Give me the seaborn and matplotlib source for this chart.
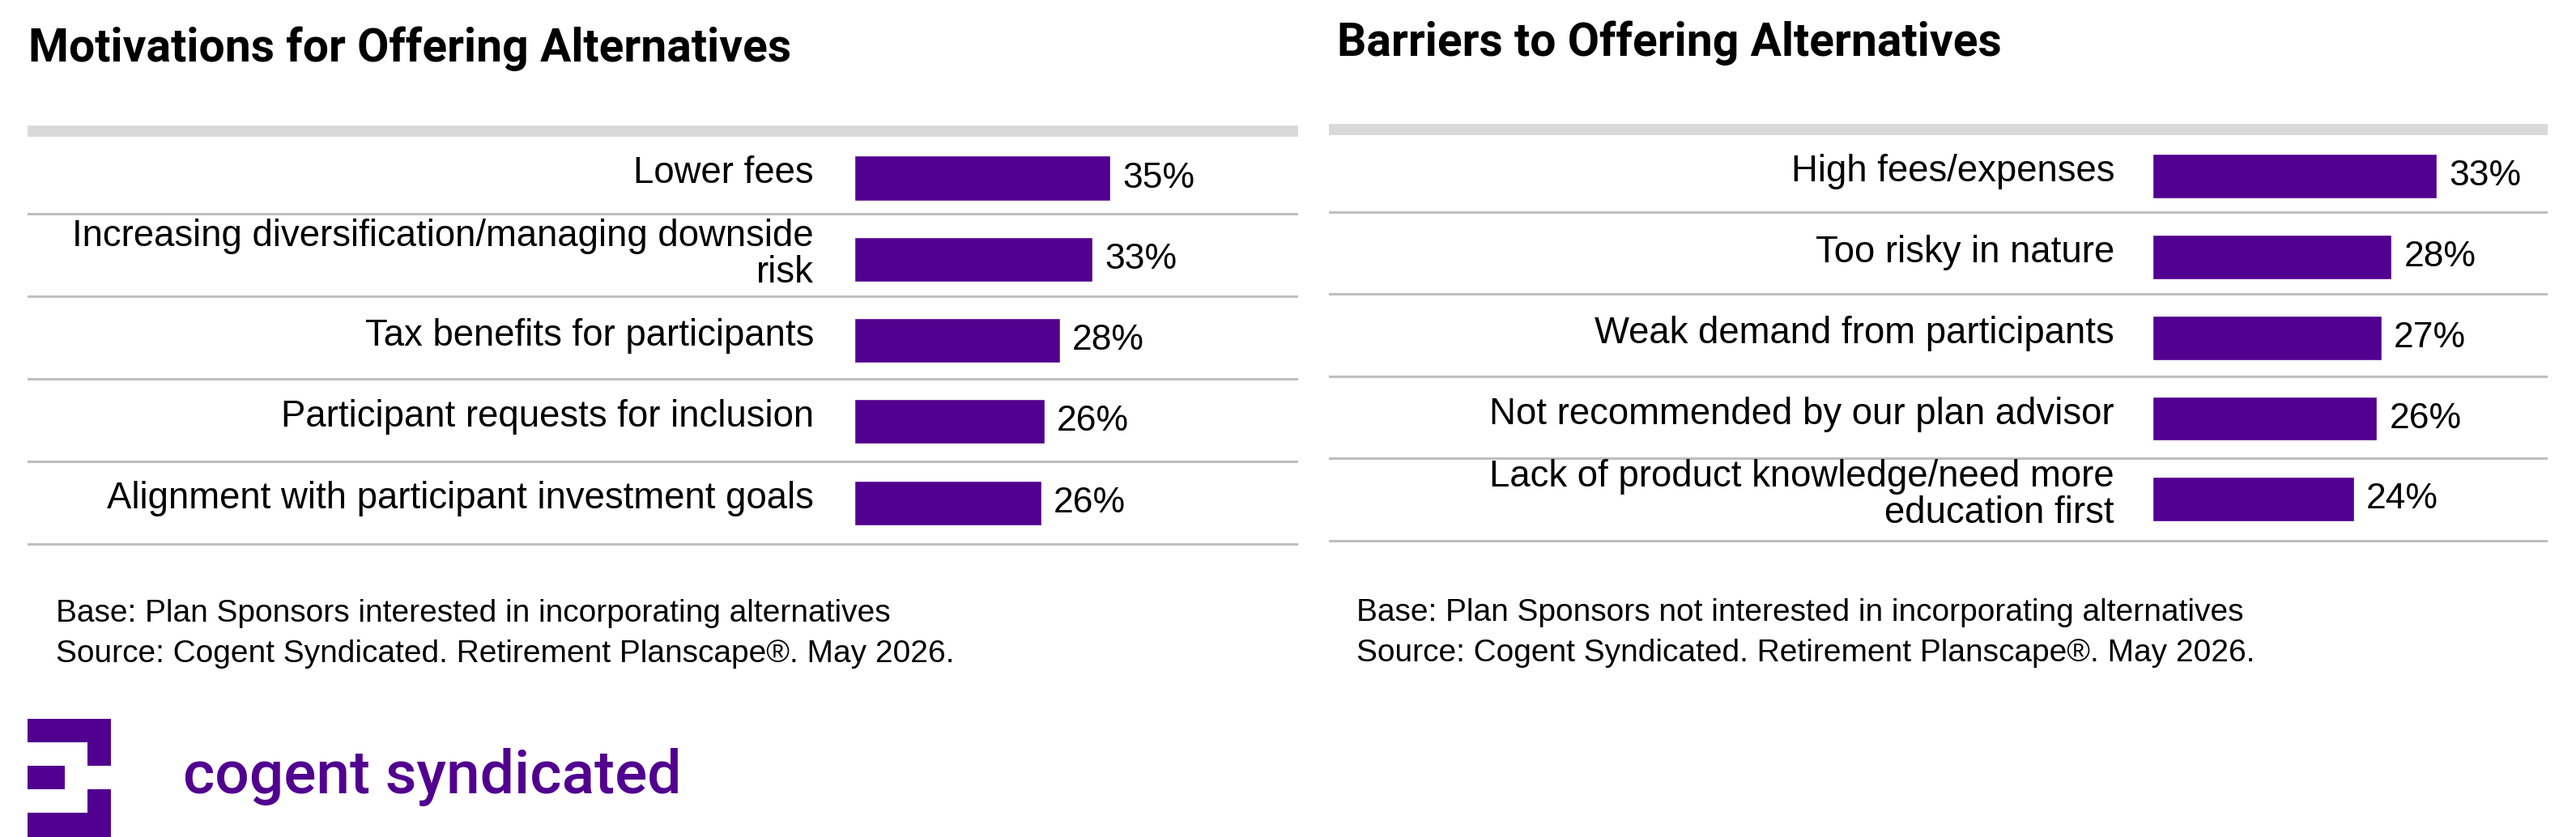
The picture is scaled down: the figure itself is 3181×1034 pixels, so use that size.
import matplotlib
matplotlib.use("Agg")
import matplotlib.pyplot as plt
from matplotlib.patches import Rectangle
import seaborn as sns
import pandas as pd
import numpy as np

# data
motiv_labels = ["Lower fees",
                "Increasing diversification/managing downside\nrisk",
                "Tax benefits for participants",
                "Participant requests for inclusion",
                "Alignment with participant investment goals"]
motiv_values = [35.0, 32.6, 28.1, 26.0, 25.6]

barrier_labels = ["High fees/expenses",
                  "Too risky in nature",
                  "Weak demand from participants",
                  "Not recommended by our plan advisor",
                  "Lack of product knowledge/need more\neducation first"]
barrier_values = [33.3, 28.0, 26.8, 26.3, 23.6]

titles = ["Motivations for Offering Alternatives", "Barriers to Offering Alternatives"]
base_lines = ["Base: Plan Sponsors interested in incorporating alternatives",
              "Base: Plan Sponsors not interested in incorporating alternatives"]
source_line = "Source: Cogent Syndicated. Retirement Planscape\u00ae. May 2026."

PURPLE = "#51008F"
W, H = 3181, 1034
DPI = 100

sns.set_theme(style="white")
plt.rcParams['font.family'] = ['Liberation Sans', 'DejaVu Sans']
plt.rcParams['text.color'] = 'black'

fig = plt.figure(figsize=(W / DPI, H / DPI), dpi=DPI)


def px_axes(x0, y0, x1, y1):
    return fig.add_axes([x0 / W, 1 - y1 / H, (x1 - x0) / W, (y1 - y0) / H])


def panel(labels, values, x0, x1, zero_px, px_per, bar0_px, row_px, lab_px):
    top, bottom = 140, 700
    ax = px_axes(x0, top, x1, bottom)
    df = pd.DataFrame({"label": labels, "value": values})
    sns.barplot(data=df, x="value", y="label", orient="h", color=PURPLE,
                saturation=1, width=0.55, ax=ax)
    ax.set_xlim(-(zero_px - x0) / px_per, (x1 - zero_px) / px_per)
    ax.set_ylim((bottom - bar0_px) / row_px, (top - bar0_px) / row_px)
    for s in ax.spines.values():
        s.set_visible(False)
    ax.set_xticks([])
    ax.set_yticks([])
    ax.set_xlabel("")
    ax.set_ylabel("")
    # row rules
    for i in range(len(labels) + 1):
        yy = -0.58 + 1.018 * i
        if i == 0:
            ax.axhline(yy, color="#d9d9d9", lw=10, zorder=0)
        else:
            ax.axhline(yy, color="#bfbfbf", lw=2.2, zorder=0)
    for i, (lab, v) in enumerate(zip(labels, values)):
        ax.text((lab_px - zero_px) / px_per, i - 0.055, lab, ha="right", va="center",
                fontsize=32.8, linespacing=1.03)
        ax.text(v + 15 / px_per, i, f"{v:.0f}%", ha="left", va="center",
                fontsize=32)
    return ax


panel(motiv_labels, motiv_values, 34, 1603, 1055, 9.03, 220, 100.3, 1005)
panel(barrier_labels, barrier_values, 1641, 3146, 2658, 10.55, 217.9, 99.7, 2611)

# titles
fig.text(35 / W, 1 - 76 / H, titles[0], fontsize=41, fontweight="bold",
         family=["Roboto", "DejaVu Sans"], va="baseline", ha="left")
fig.text(1651 / W, 1 - 69 / H, titles[1], fontsize=41, fontweight="bold",
         family=["Roboto", "DejaVu Sans"], va="baseline", ha="left")

# footers
for xb, yb, base in [(69, 768, base_lines[0]), (1675, 767, base_lines[1])]:
    fig.text(xb / W, 1 - yb / H, base, fontsize=28, va="baseline")
    fig.text(xb / W, 1 - (yb + 50) / H, source_line, fontsize=28, va="baseline")

# logo mark
lax = px_axes(0, 850, 900, 1034)
lax.set_xlim(0, 900)
lax.set_ylim(1034, 850)
lax.axis("off")
for (rx, ry, rw, rh) in [(34, 888, 103, 29), (108, 888, 29, 58), (34, 946, 46, 29),
                         (108, 975, 29, 58), (34, 1004, 103, 30)]:
    lax.add_patch(Rectangle((rx, ry), rw, rh, color=PURPLE, lw=0))
lax.text(226, 980, "cogent syndicated", fontsize=54, color=PURPLE,
         family=["Roboto", "DejaVu Sans"], fontweight="medium", va="baseline", ha="left")

fig.savefig("out.png", dpi=DPI, facecolor="white")
